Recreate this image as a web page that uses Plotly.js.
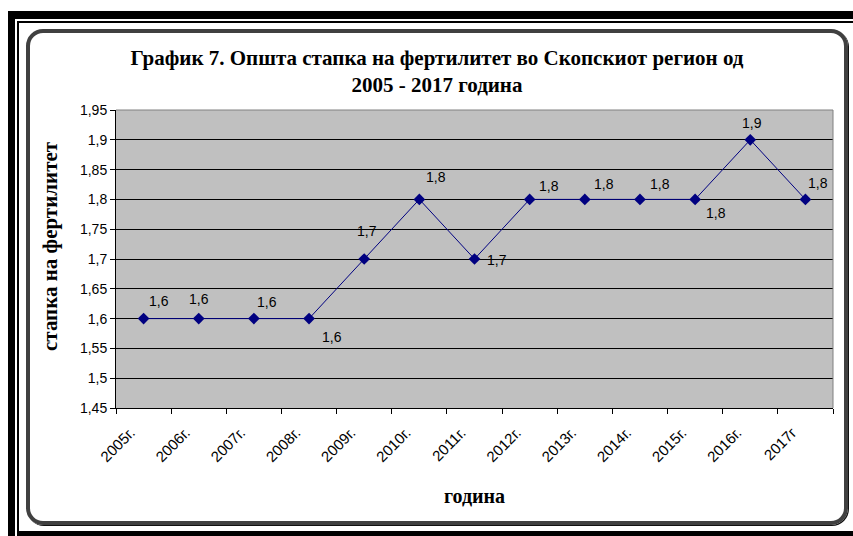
<!DOCTYPE html>
<html>
<head>
<meta charset="utf-8">
<script src="https://cdn.plot.ly/plotly-3.0.1.min.js"></script>
<style>
html,body{margin:0;padding:0;background:#fff;}
#wrap{position:relative;width:853px;height:536px;overflow:hidden;background:#fff;}
.b{position:absolute;background:#000;}
#round{position:absolute;left:26px;top:29px;width:822px;height:496px;box-sizing:border-box;border:4px solid #404040;border-radius:17px;box-shadow:1px 1px 0 #111;}
#chart{position:absolute;left:0;top:0;width:853px;height:536px;}
</style>
</head>
<body>
<div id="wrap">
  <div class="b" style="left:8px;top:11px;width:845px;height:8px;"></div>
  <div class="b" style="left:8px;top:11px;width:7px;height:525px;"></div>
  <div class="b" style="left:17px;top:21px;width:836px;height:2px;"></div>
  <div class="b" style="left:17px;top:21px;width:2px;height:515px;"></div>
  <div class="b" style="left:17px;top:531px;width:836px;height:5px;"></div>
  <div id="round"></div>
  <div id="chart"></div>
</div>
<script>
const years = ["2005г.","2006г.","2007г.","2008г.","2009г.","2010г.","2011г.","2012г.","2013г.","2014г.","2015г.","2016г.","2017г"];
const fertility = [1.6,1.6,1.6,1.6,1.7,1.8,1.7,1.8,1.8,1.8,1.8,1.9,1.8];
const valueLabels = ["1,6","1,6","1,6","1,6","1,7","1,8","1,7","1,8","1,8","1,8","1,8","1,9","1,8"];
// label offsets in pixels (style only)
const labelDx = [15,0,13,23,3,17,22,19,19,20,21,2,13];
const labelDy = [18,20,17,-18,28,22,-1,13,15,15,-14,17,16];

const serif = 'Liberation Serif, Times New Roman, serif';
const sans = 'Liberation Sans, Arial, sans-serif';

const annotations = years.map((y,i)=>({
  x: y, y: fertility[i], xref:'x', yref:'y',
  text: valueLabels[i], showarrow:false,
  xshift: labelDx[i], yshift: labelDy[i],
  font:{family:sans, size:14, color:'#000'}
}));
// y-axis title
annotations.push({
  text:'стапка на фертилитет', showarrow:false, textangle:-90,
  xref:'paper', yref:'paper', x:(50-116)/717, y:(408-246)/298,
  xanchor:'center', yanchor:'middle',
  font:{family:serif, size:21, color:'#000', weight:'bold'}
});

const trace = {
  x: years, y: fertility, type:'scatter', mode:'lines+markers',
  line:{color:'#000080', width:1},
  marker:{symbol:'diamond', size:9, color:'#000080'},
  hoverinfo:'skip'
};

const layout = {
  width:853, height:536,
  margin:{l:116, r:20, t:110, b:128},
  paper_bgcolor:'rgba(0,0,0,0)',
  plot_bgcolor:'#c0c0c0',
  separators:', ',
  showlegend:false,
  title:{
    text:'График 7. Општа стапка на фертилитет во Скопскиот регион од<br>2005 - 2017 година',
    font:{family:serif, size:21, color:'#000', weight:'bold'},
    xref:'container', x:437/853, xanchor:'center',
    yref:'container', y:1-65/536, yanchor:'top'
  },
  xaxis:{
    type:'category',
    range:[-0.5,12.5],
    tickson:'boundaries',
    ticks:'outside', ticklen:5, tickcolor:'#000', tickwidth:1,
    showline:true, linecolor:'#000', linewidth:1,
    showgrid:false,
    tickangle:-45,
    ticklabelshift:-13,
    ticklabelstandoff:9,
    tickfont:{family:sans, size:15, color:'#000'},
    title:{text:'година', font:{family:serif, size:20, color:'#000', weight:'bold'}, standoff:24},
    fixedrange:true
  },
  yaxis:{
    range:[1.45,1.95], dtick:0.05, tick0:1.45,
    ticks:'outside', ticklen:5, tickcolor:'#000', tickwidth:1,
    showline:true, linecolor:'#000', linewidth:1,
    showgrid:true, gridcolor:'#000', gridwidth:1,
    zeroline:false,
    tickfont:{family:sans, size:14, color:'#000'},
    fixedrange:true
  },
  shapes:[
    {type:'line', xref:'paper', yref:'paper', x0:0, x1:1, y0:1, y1:1, line:{color:'#808080', width:1}},
    {type:'line', xref:'paper', yref:'paper', x0:1, x1:1, y0:0, y1:1, line:{color:'#808080', width:1}}
  ],
  annotations: annotations
};

Plotly.newPlot('chart',[trace],layout,{displayModeBar:false, staticPlot:true});
</script>
</body>
</html>
